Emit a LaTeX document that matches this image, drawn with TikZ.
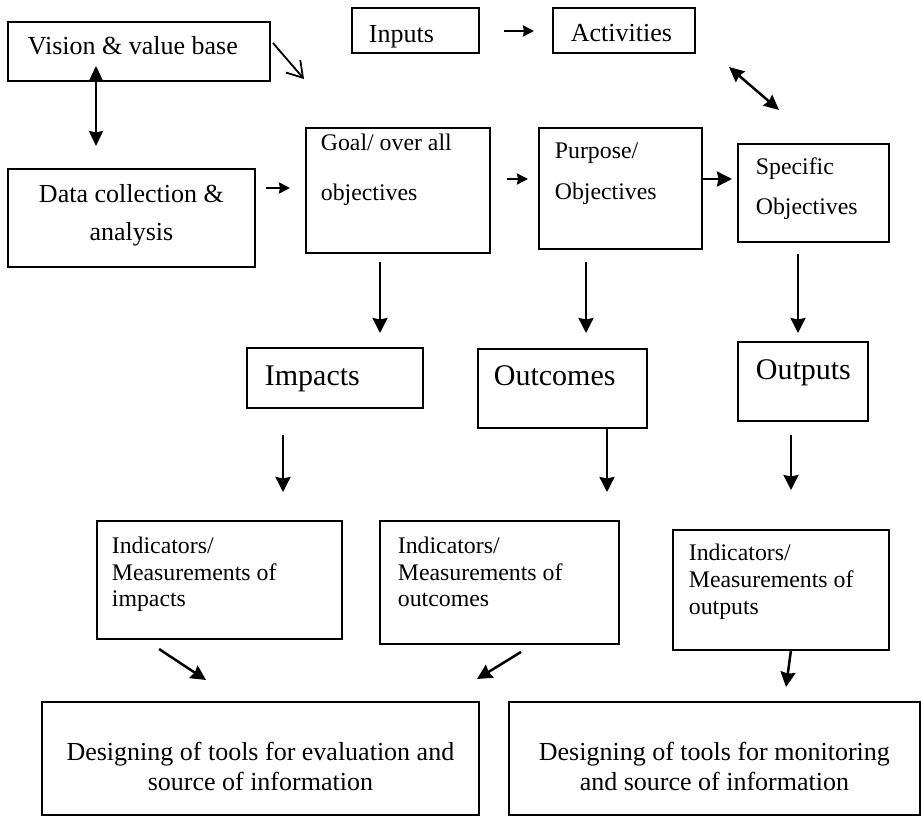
\documentclass[tikz,border=0pt]{standalone}
\usepackage{fontspec}
\setmainfont{Liberation Serif}
\usetikzlibrary{arrows.meta}
\newcommand\tbl[7]{\parbox[c][#2pt][t]{#1pt}{\fontsize{#5pt}{#6pt}\selectfont\leftskip=#3pt\relax\rule{0pt}{#4pt}#7}}
\newcommand\tbc[6]{\parbox[c][#2pt][t]{#1pt}{\fontsize{#4pt}{#5pt}\selectfont\centering\rule{0pt}{#3pt}#6\par}}
\tikzset{
  box/.style={draw, line width=1.8pt, inner sep=0pt, anchor=north west},
  arr/.style={line width=2.5pt, -{Stealth[length=15pt,width=15pt,inset=1.5pt]}},
  sarr/.style={line width=2.5pt, -{Stealth[length=11pt,width=11pt,inset=1pt]}},
  darr/.style={line width=2.5pt, {Stealth[length=15pt,width=14pt,inset=1.5pt]}-{Stealth[length=15pt,width=14pt,inset=1.5pt]}},
  oarr/.style={line width=1.8pt, -{Straight Barb[length=15pt,width=19pt]}},
}
\begin{document}
\begin{tikzpicture}[x=1pt,y=-1pt]
\useasboundingbox (0,0) rectangle (921,816);
% boxes
\node[box] (vision) at (7,21) {\tbl{262}{59}{20}{33}{26}{30}{Vision \& value base}};
\node[box] (inputs) at (351,7) {\tbl{127}{45}{17}{35}{26}{30}{Inputs}};
\node[box] (activities) at (552,7) {\tbl{142}{45}{18}{34}{26}{30}{Activities}};
\node[box] (data) at (7,168) {\tbc{247}{98}{34}{26}{38}{Data collection \&\\analysis}};
\node[box] (goal) at (305,127) {\tbl{184}{125}{15}{23}{23.8}{50}{Goal/ over all\\objectives}};
\node[box] (purpose) at (538,127) {\tbl{163}{121}{16}{31}{23.8}{41}{Purpose/\\Objectives}};
\node[box] (specific) at (737,143) {\tbl{151}{98}{18}{31}{23.8}{40}{Specific\\Objectives}};
\node[box] (impacts) at (246,347) {\tbl{176}{60}{18}{38}{30}{34}{Impacts}};
\node[box] (outcomes) at (477,348) {\tbl{169}{79}{16}{37}{30}{34}{Outcomes}};
\node[box] (outputs) at (737,341) {\tbl{130}{79}{18}{38}{30}{34}{Outputs}};
\node[box] (indimp) at (96,520) {\tbl{245}{118}{15}{33}{23.8}{26.5}{Indicators/\\Measurements of\\impacts}};
\node[box] (indout) at (379,520) {\tbl{239}{123}{18}{33}{23.8}{26.5}{Indicators/\\Measurements of\\outcomes}};
\node[box] (indoutp) at (672,529) {\tbl{216}{120}{16}{31}{23.8}{27}{Indicators/\\Measurements of\\outputs}};
\node[box] (eval) at (41,701) {\tbc{437}{113}{59}{26}{30}{Designing of tools for evaluation and\\source of information}};
\node[box] (mon) at (508,701) {\tbc{411}{113}{59}{26}{30}{Designing of tools for monitoring\\and source of information}};
% arrow end points
\coordinate (vg1) at (273,43);  \coordinate (vg2) at (304,79);
\coordinate (ia1) at (504,31);  \coordinate (ia2) at (534,31);
\coordinate (vd1) at (96,66);   \coordinate (vd2) at (96,146);
\coordinate (dg1) at (266,188); \coordinate (dg2) at (290,188);
\coordinate (gp1) at (507,179); \coordinate (gp2) at (528,179);
\coordinate (ps1) at (701,179); \coordinate (ps2) at (732,179);
\coordinate (as1) at (729,67);  \coordinate (as2) at (779,110);
\coordinate (gi1) at (380,262); \coordinate (gi2) at (380,333);
\coordinate (po1) at (586,262); \coordinate (po2) at (586,333);
\coordinate (so1) at (798,254); \coordinate (so2) at (798,333);
\coordinate (ii1) at (283,435); \coordinate (ii2) at (283,492);
\coordinate (oi1) at (607,428); \coordinate (oi2) at (607,492);
\coordinate (pi1) at (791,435); \coordinate (pi2) at (791,490);
\coordinate (ie1) at (159,649); \coordinate (ie2) at (206,680);
\coordinate (oe1) at (521,652); \coordinate (oe2) at (477,679);
\coordinate (pm1) at (791,650); \coordinate (pm2) at (786,687);
% connectors
\draw[oarr] (vg1) -- (vg2);
\draw[sarr] (ia1) -- (ia2);
\draw[darr] (vd1) -- (vd2);
\draw[sarr] (dg1) -- (dg2);
\draw[sarr] (gp1) -- (gp2);
\draw[arr] (ps1) -- (ps2);
\draw[darr] (as1) -- (as2);
\draw[arr] (gi1) -- (gi2);
\draw[arr] (po1) -- (po2);
\draw[arr] (so1) -- (so2);
\draw[arr] (ii1) -- (ii2);
\draw[arr] (oi1) -- (oi2);
\draw[arr] (pi1) -- (pi2);
\draw[arr] (ie1) -- (ie2);
\draw[arr] (oe1) -- (oe2);
\draw[arr] (pm1) -- (pm2);
\end{tikzpicture}
\end{document}
